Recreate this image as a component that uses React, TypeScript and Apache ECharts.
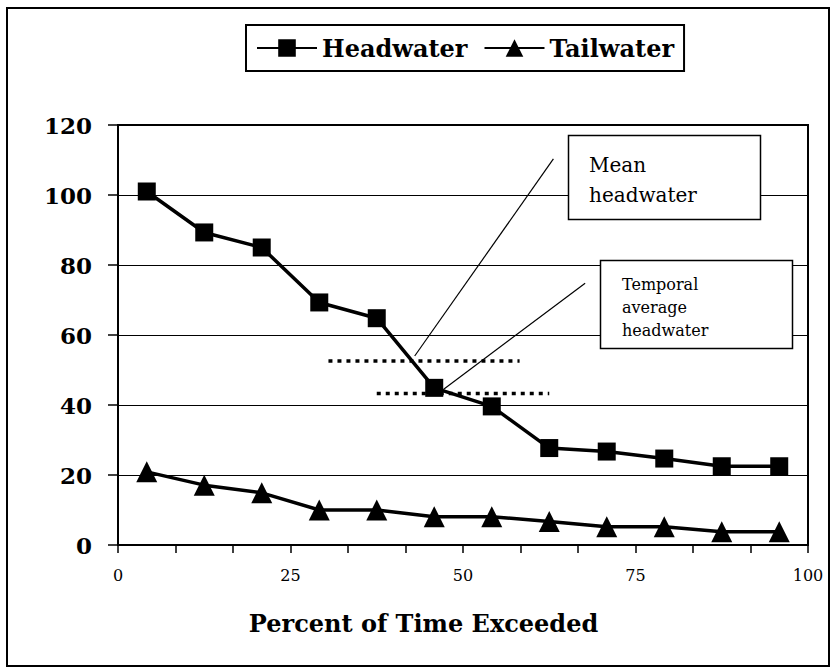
import React, { useEffect, useRef } from "react";
import * as echarts from "echarts";

const xPercent = [4.17, 12.5, 20.83, 29.17, 37.5, 45.83, 54.17, 62.5, 70.83, 79.17, 87.5, 95.83];
const headwater = [101, 89.3, 85, 69.3, 64.8, 44.9, 39.6, 27.7, 26.7, 24.7, 22.5, 22.5];
const tailwater = [20.9, 17.1, 14.9, 10, 10, 8.1, 8.1, 6.7, 5.2, 5.2, 3.8, 3.8];

const meanHeadwater = 52.6;
const meanSpan = [30.5, 58.2];
const temporalAverage = 43.3;
const temporalSpan = [37.5, 62.5];

const meanCallout = [[43, 54], [63.1, 110.3]];
const temporalCallout = [[47.2, 44.5], [67.7, 74.8]];

const yMin = 0;
const yMax = 120;
const yStep = 20;
const xMin = 0;
const xMax = 100;
const xStep = 25;

const legendNames = ["Headwater", "Tailwater"];
const xTitle = "Percent of Time Exceeded";
const meanLabel = ["Mean", "headwater"];
const temporalLabel = ["Temporal", "average", "headwater"];

const SERIF = "DejaVu Serif";

export default function App() {
  const ref = useRef<HTMLDivElement>(null);

  useEffect(() => {
    if (!ref.current) return;
    const chart = echarts.init(ref.current, undefined, { renderer: "svg" });

    const pairs = (ys: number[]) => xPercent.map((x, i) => [x, ys[i]]);

    const txt = (text: string, x: number, y: number, size: number, bold: boolean, align: string) => ({
      type: "text",
      z: 11,
      x,
      y,
      style: {
        text,
        fontFamily: SERIF,
        fontSize: size,
        fontWeight: bold ? "bold" : "normal",
        fill: "#000",
        align,
        verticalAlign: "middle",
      },
    });

    const option: any = {
      animation: false,
      backgroundColor: "#fff",
      textStyle: { fontFamily: SERIF, color: "#000" },
      grid: {
        left: 118,
        top: 125,
        width: 690,
        height: 420,
        show: true,
        borderColor: "#000",
        borderWidth: 2,
        backgroundColor: "transparent",
      },
      legend: {
        data: legendNames,
        left: 246,
        top: 25,
        orient: "horizontal",
        itemWidth: 60,
        itemHeight: 22,
        itemGap: 16,
        padding: [11, 10],
        borderColor: "#000",
        borderWidth: 2,
        backgroundColor: "#fff",
        textStyle: { fontFamily: SERIF, fontWeight: "bold", fontSize: 24, color: "#000" },
      },
      xAxis: {
        type: "value",
        min: xMin,
        max: xMax,
        interval: xStep,
        axisLine: { show: true, lineStyle: { color: "#000", width: 2 } },
        axisTick: { show: true, inside: false, length: 8, lineStyle: { color: "#000", width: 1.5 } },
        minorTick: { show: true, splitNumber: 3, length: 8, lineStyle: { color: "#000", width: 1.5 } },
        splitLine: { show: false },
        minorSplitLine: { show: false },
        axisLabel: { fontFamily: SERIF, fontSize: 16, color: "#000", margin: 22 },
      },
      yAxis: {
        type: "value",
        min: yMin,
        max: yMax,
        interval: yStep,
        axisLine: { show: true, lineStyle: { color: "#000", width: 2 } },
        axisTick: { show: true, inside: false, length: 10, lineStyle: { color: "#000", width: 1.5 } },
        splitLine: { show: true, lineStyle: { color: "#000", width: 1 } },
        axisLabel: { fontFamily: SERIF, fontWeight: "bold", fontSize: 23, color: "#000", margin: 26 },
      },
      series: [
        {
          name: "Headwater",
          type: "line",
          data: pairs(headwater),
          symbol: "rect",
          symbolSize: 18,
          lineStyle: { color: "#000", width: 3.5 },
          itemStyle: { color: "#000" },
          z: 4,
        },
        {
          name: "Tailwater",
          type: "line",
          data: pairs(tailwater),
          symbol: "triangle",
          symbolSize: 21,
          lineStyle: { color: "#000", width: 3.5 },
          itemStyle: { color: "#000" },
          z: 4,
        },
        {
          name: "Mean headwater",
          type: "line",
          data: [[meanSpan[0], meanHeadwater], [meanSpan[1], meanHeadwater]],
          symbol: "none",
          silent: true,
          lineStyle: { color: "#000", width: 3.5, type: [4, 5], cap: "butt" },
          z: 3,
        },
        {
          name: "Temporal average headwater",
          type: "line",
          data: [[temporalSpan[0], temporalAverage], [temporalSpan[1], temporalAverage]],
          symbol: "none",
          silent: true,
          lineStyle: { color: "#000", width: 3.5, type: [4, 5], cap: "butt" },
          z: 3,
        },
        {
          name: "meanCallout",
          type: "line",
          data: meanCallout,
          symbol: "none",
          silent: true,
          lineStyle: { color: "#000", width: 1.2 },
          z: 3,
        },
        {
          name: "temporalCallout",
          type: "line",
          data: temporalCallout,
          symbol: "none",
          silent: true,
          lineStyle: { color: "#000", width: 1.2 },
          z: 3,
        },
      ],
      graphic: [
        {
          type: "rect",
          z: 1,
          shape: { x: 7, y: 8, width: 822, height: 658 },
          style: { fill: "none", stroke: "#000", lineWidth: 2 },
        },
        {
          type: "rect",
          z: 10,
          shape: { x: 568.5, y: 135.5, width: 192, height: 84 },
          style: { fill: "#fff", stroke: "#000", lineWidth: 1.5 },
        },
        txt(meanLabel[0], 589, 165, 20, false, "left"),
        txt(meanLabel[1], 589, 195, 20, false, "left"),
        {
          type: "rect",
          z: 10,
          shape: { x: 600.5, y: 260.5, width: 192, height: 88 },
          style: { fill: "#fff", stroke: "#000", lineWidth: 1.5 },
        },
        ...temporalLabel.map((t, i) => txt(t, 622, 284 + i * 23, 16, false, "left")),
        txt(xTitle, 423.5, 623, 24, true, "center"),
      ],
    };

    chart.setOption(option);
    return () => chart.dispose();
  }, []);

  return (
    <div
      ref={ref}
      style={{ position: "absolute", left: 0, top: 0, width: 832, height: 669, background: "#fff" }}
    />
  );
}
